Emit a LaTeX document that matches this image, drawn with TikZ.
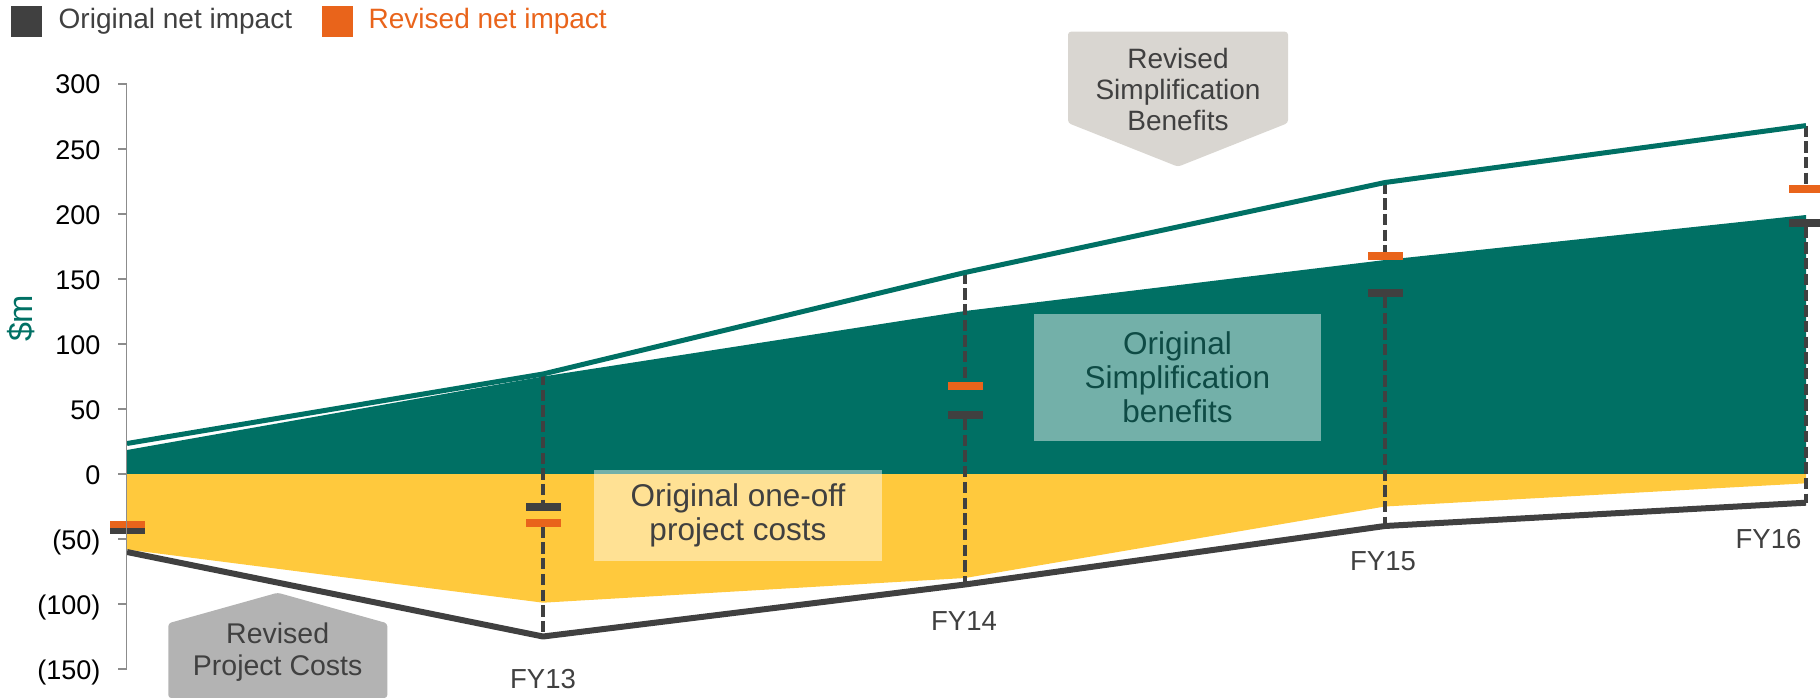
\documentclass[tikz,border=0pt]{standalone}
\usepackage{fontspec}
\setmainfont{Liberation Sans}
\definecolor{cTeal}{HTML}{007064}
\definecolor{cYellow}{HTML}{FFC93D}
\definecolor{cDark}{HTML}{404040}
\definecolor{cOrange}{HTML}{E9641B}
\definecolor{cAxis}{HTML}{8C8C8C}
\definecolor{cCallTop}{HTML}{D9D6D1}
\definecolor{cCallBot}{HTML}{B3B3B3}
\definecolor{cTealText}{HTML}{0E4B45}
\begin{document}
\begin{tikzpicture}[x=1pt,y=-1pt,
  mk/.style={rectangle, inner sep=0pt, minimum width=35pt, minimum height=7.7pt, draw=none},
  dashln/.style={draw=cDark, line width=4pt, dash pattern=on 11.3pt off 4.4pt},
  revben/.style={draw=cTeal, line width=5pt, line join=round},
  revcost/.style={draw=cDark, line width=6pt, line join=round},
  axisln/.style={draw=cAxis, line width=1.6pt},
  ticklbl/.style={anchor=base east, inner sep=0pt, font=\fontsize{27}{30}\selectfont, text=black},
  fylbl/.style={anchor=base, inner sep=0pt, font=\fontsize{27.5}{30}\selectfont, text=cDark},
  legtxt/.style={anchor=base west, inner sep=0pt, font=\fontsize{28}{30}\selectfont},
  calltxt/.style={inner sep=0pt, align=center, text=cDark},
  boxtxt/.style={inner sep=0pt, align=center, fill=white, fill opacity=0.45, text opacity=1,
                 font=\fontsize{31.5}{34}\selectfont}
]
\useasboundingbox (0,0) rectangle (1820,698);

% ---------- data points ----------
% revised benefits
\coordinate (rb0) at (127,443.5);
\coordinate (rb1) at (543,374);
\coordinate (rb2) at (965,272.5);
\coordinate (rb3) at (1385,182.5);
\coordinate (rb4) at (1806,125.6);
% original benefits
\coordinate (ob0) at (127,450);
\coordinate (ob1) at (543,376.5);
\coordinate (ob2) at (965,311);
\coordinate (ob3) at (1385,260);
\coordinate (ob4) at (1806,215);
% original costs
\coordinate (oc0) at (127,549.5);
\coordinate (oc1) at (543,602.7);
\coordinate (oc2) at (965,578);
\coordinate (oc3) at (1385,506.5);
\coordinate (oc4) at (1806,483.3);
% revised costs
\coordinate (rc0) at (127,552);
\coordinate (rc1) at (543,636.5);
\coordinate (rc2) at (965,584.5);
\coordinate (rc3) at (1385,526);
\coordinate (rc4) at (1806,502.7);
% zero line ends
\coordinate (z0) at (127,474);
\coordinate (z4) at (1806,474);

% ---------- areas ----------
\fill[cTeal] (z0) -- (ob0) -- (ob1) -- (ob2) -- (ob3) -- (ob4) -- (z4) -- cycle;
\fill[cYellow] (z0) -- (oc0) -- (oc1) -- (oc2) -- (oc3) -- (oc4) -- (z4) -- cycle;

% ---------- area labels ----------
\node[boxtxt, text=cTealText, minimum width=287pt, minimum height=126.7pt] (osb) at (1177.5,377.4)
  {Original\\Simplification\\benefits};
\node[boxtxt, text=cDark, minimum width=287.7pt, minimum height=90.7pt] (ooc) at (737.9,515.4)
  {Original one-off\\project costs};

% ---------- markers (positions) ----------
\node[mk, fill=cDark]   (d0) at (127,530.5) {};
\node[mk, fill=cOrange] (o0) at (127,524.5) {};
\node[mk, fill=cDark]   (d1) at (543,506.7) {};
\node[mk, fill=cOrange] (o1) at (543,522.7) {};
\node[mk, fill=cOrange] (o2) at (965,385.8) {};
\node[mk, fill=cDark]   (d2) at (965,415) {};
\node[mk, fill=cOrange] (o3) at (1385,255.8) {};
\node[mk, fill=cDark]   (d3) at (1385,292.8) {};
\node[mk, fill=cOrange] (o4) at (1806,188.7) {};
\node[mk, fill=cDark]   (d4) at (1806,222.7) {};

% ---------- dashed connectors ----------
\draw[dashln] (rb1) -- (d1.north);
\draw[dashln] (o1.south) -- (rc1);
\draw[dashln] (rb2) -- (o2.north);
\draw[dashln] (d2.south) -- (rc2);
\draw[dashln] (rb3) -- (o3.north);
\draw[dashln] (d3.south) -- (rc3);
\draw[dashln] (rb4) -- (o4.north);
\draw[dashln] (d4.south) -- (rc4);

% ---------- revised lines ----------
\draw[revben] (rb0) -- (rb1) -- (rb2) -- (rb3) -- (rb4);
\draw[revcost] (rc0) -- (rc1) -- (rc2) -- (rc3) -- (rc4);

% markers drawn again on top of the lines
\foreach \m/\c in {d0/cDark,o0/cOrange,d1/cDark,o1/cOrange,o2/cOrange,d2/cDark,o3/cOrange,d3/cDark,o4/cOrange,d4/cDark}{
  \node[mk, fill=\c] at (\m) {};
}

% ---------- axis ----------
\coordinate (axtop) at (126.5,84);
\coordinate (axbot) at (126.5,669);
\draw[axisln] (axtop) -- (axbot);
\foreach \yy/\lab/\nm in {84/300/t1,149/250/t2,214/200/t3,279/150/t4,344/100/t5,409/50/t6,474/0/t7,539/(50)/t8,604/(100)/t9,669/(150)/t10}{
  \draw[axisln] (118,\yy) -- (126.5,\yy);
  \node[ticklbl] (\nm) at (100.5,\yy+10) {\lab};
}
\node[rotate=90, inner sep=0pt, text=cTeal, font=\fontsize{34}{36}\selectfont] (unit) at (21.5,318.3) {\$m};

% ---------- FY labels ----------
\node[fylbl] (fy13) at (543,688) {FY13};
\node[fylbl] (fy14) at (964,630) {FY14};
\node[fylbl] (fy15) at (1383,570) {FY15};
\node[fylbl] (fy16) at (1768.5,548.3) {FY16};

% ---------- legend ----------
\fill[cDark] (11,6) rectangle (42,37);
\node[legtxt, text=cDark] (leg1) at (58.5,28.3) {Original net impact};
\fill[cOrange] (322,6) rectangle (353,37);
\node[legtxt, text=cOrange] (leg2) at (368.5,28.3) {Revised net impact};

% ---------- callouts ----------
\fill[cCallTop, rounded corners=3pt] (1068,31.7) -- (1288,31.7) -- (1288,123) -- (1178,166.7) -- (1068,123) -- cycle;
\node[calltxt, font=\fontsize{28}{31}\selectfont] (rsb) at (1178,89) {Revised\\Simplification\\Benefits};

\fill[cCallBot, rounded corners=3pt] (168.3,698) -- (168.3,623.3) -- (277.7,592.7) -- (387.3,623.3) -- (387.3,698) -- cycle;
\node[calltxt, font=\fontsize{28.5}{32}\selectfont] (rpc) at (277.7,652.3) {Revised\\Project Costs};
\end{tikzpicture}
\end{document}
